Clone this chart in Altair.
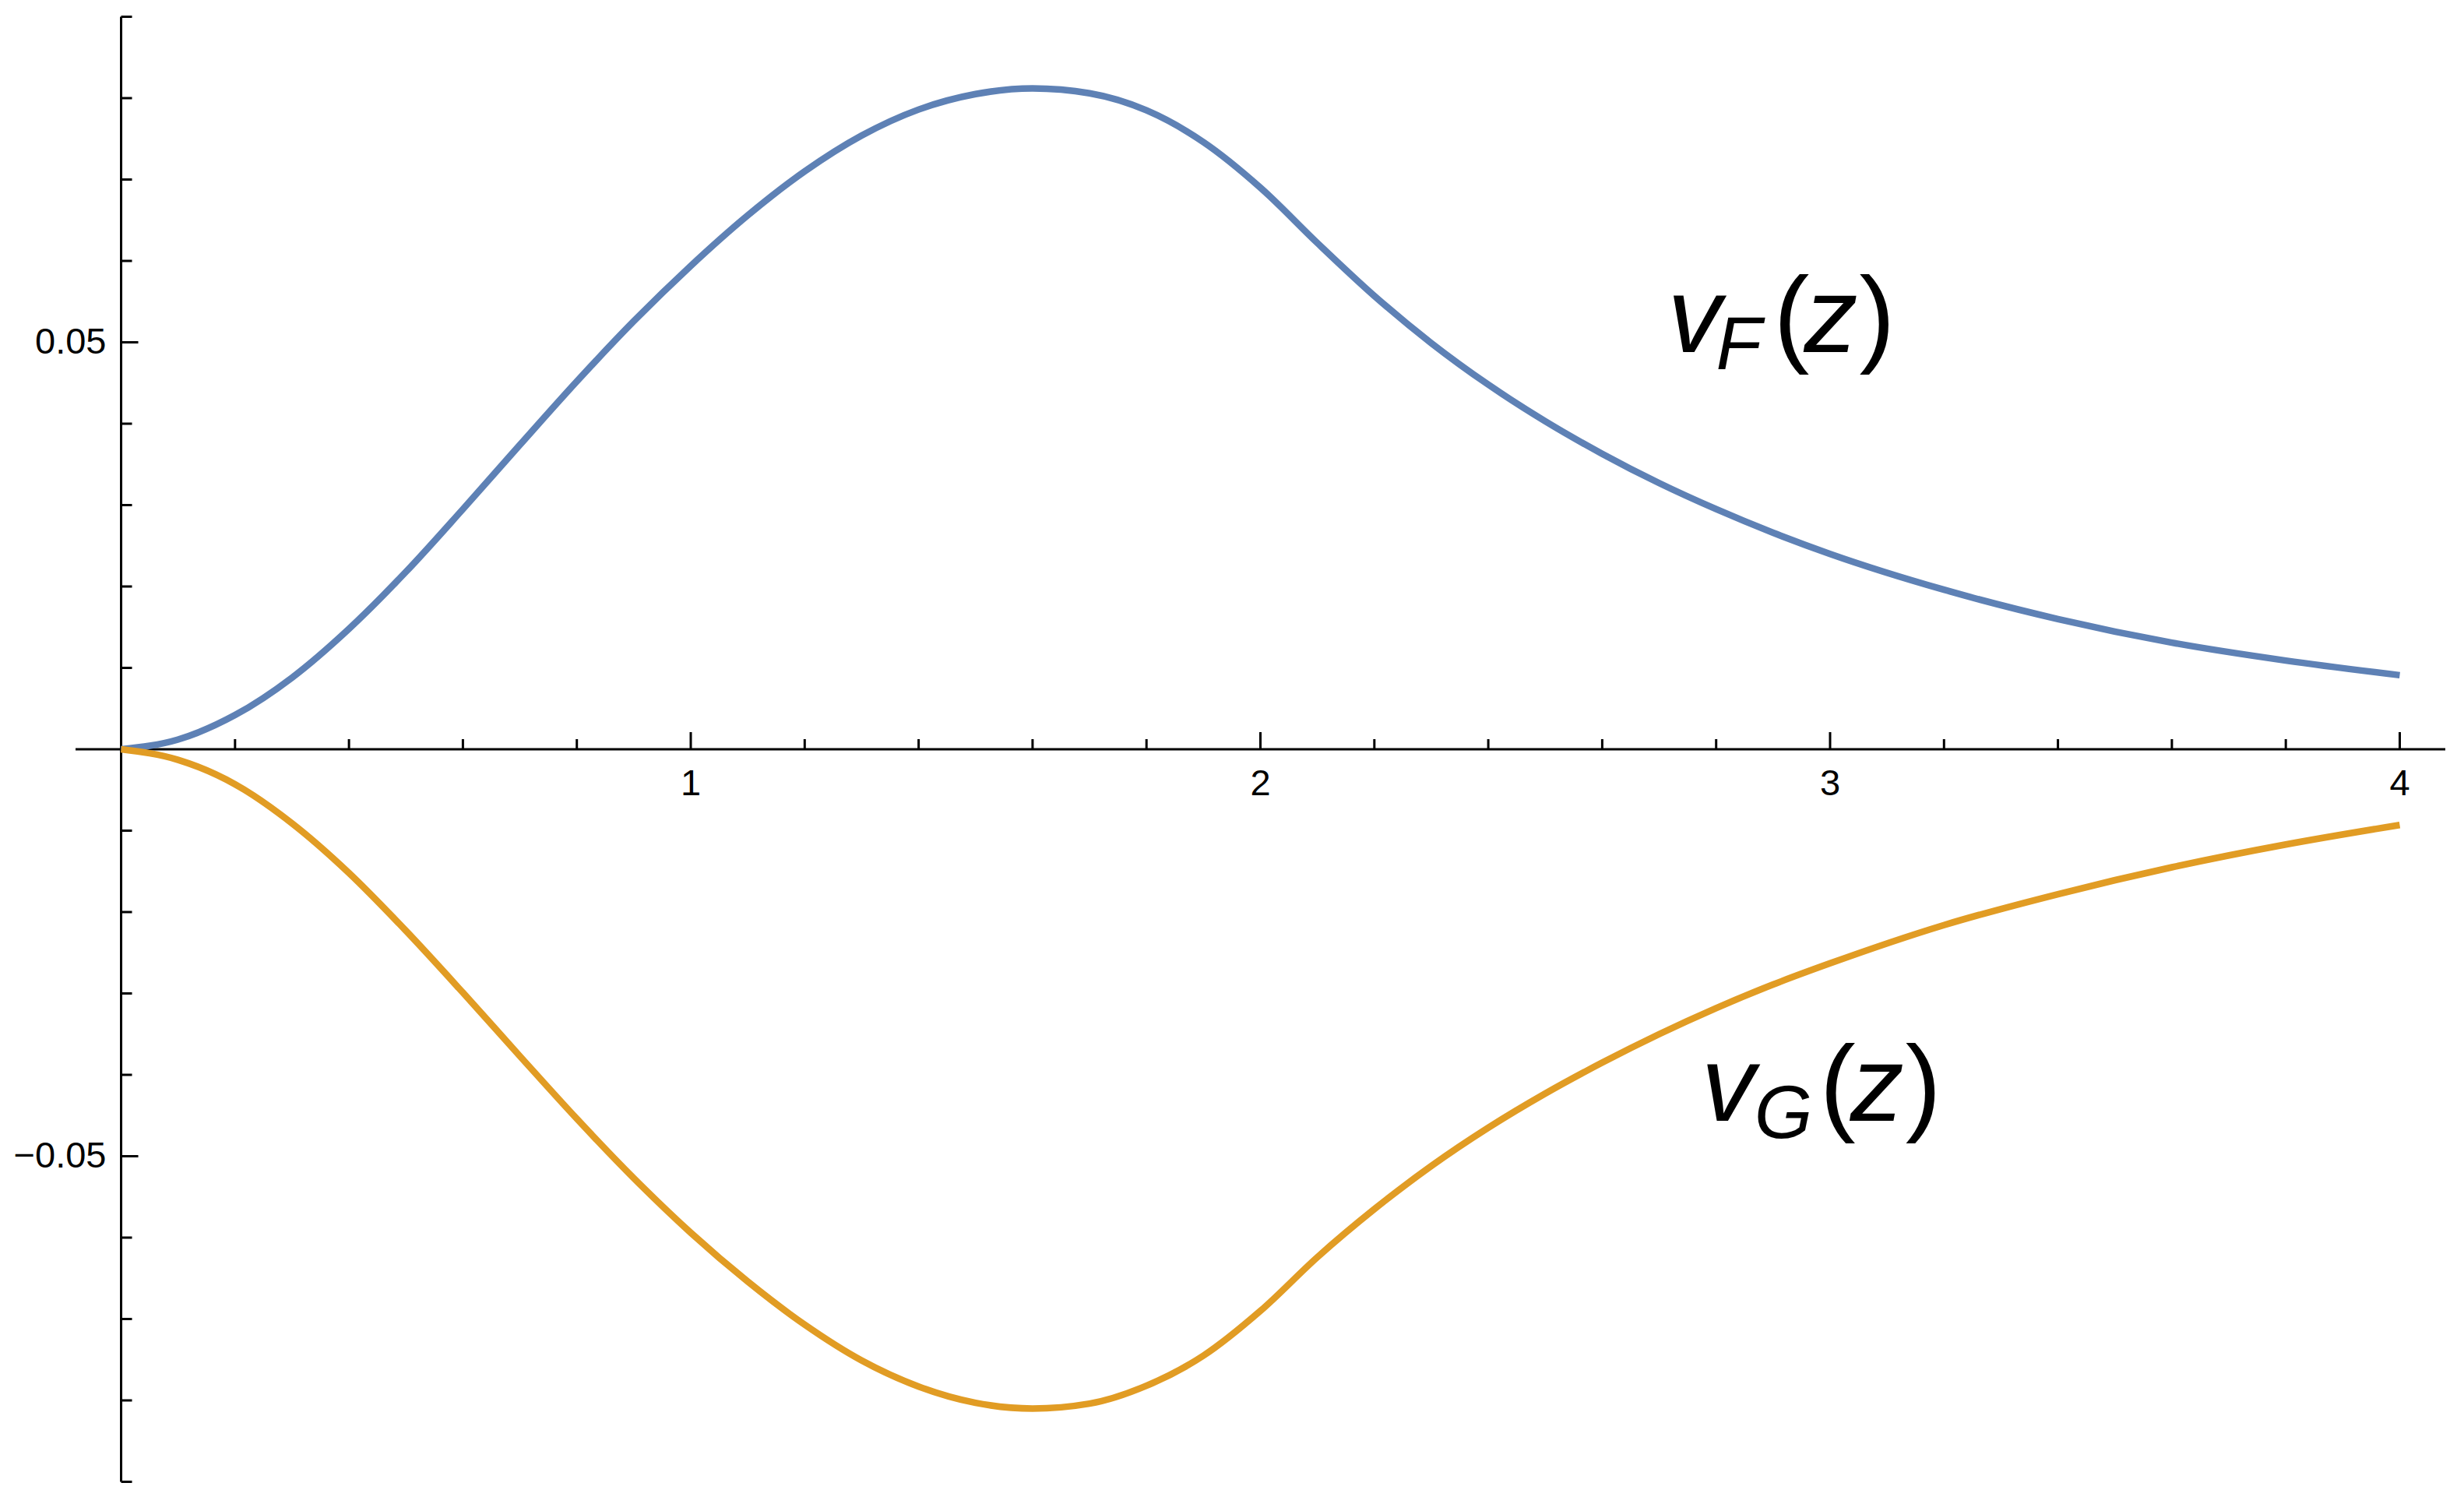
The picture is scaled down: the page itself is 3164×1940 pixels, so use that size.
import altair as alt
import pandas as pd

# ---------------- data ----------------
z_vals = [0.0, 0.1, 0.2, 0.3, 0.4, 0.5, 0.6, 0.7, 0.8, 0.9, 1.0, 1.1, 1.2, 1.3,
          1.4, 1.5, 1.6, 1.7, 1.8, 1.9, 2.0, 2.1, 2.2, 2.3, 2.4, 2.5, 2.6, 2.7,
          2.8, 2.9, 3.0, 3.2, 3.4, 3.6, 3.8, 4.0]
vF_vals = [0.0, 0.0012, 0.0042, 0.0088, 0.0148, 0.0218, 0.0295, 0.0374, 0.0452,
           0.0526, 0.0594, 0.0656, 0.0710, 0.0754, 0.0786, 0.0805, 0.0812, 0.0806,
           0.0785, 0.0746, 0.0690, 0.0622, 0.0557, 0.0499, 0.0448, 0.0403, 0.0363,
           0.0327, 0.0295, 0.0266, 0.0240, 0.0196, 0.0160, 0.0131, 0.0109, 0.0091]
vG_vals = [0.0, -0.0013, -0.0043, -0.0091, -0.0152, -0.0223, -0.0299, -0.0377,
           -0.0454, -0.0527, -0.0594, -0.0654, -0.0707, -0.0751, -0.0783, -0.0803,
           -0.0810, -0.0804, -0.0782, -0.0745, -0.0690, -0.0624, -0.0565, -0.0512,
           -0.0465, -0.0423, -0.0385, -0.0350, -0.0318, -0.0289, -0.0263, -0.0216,
           -0.0178, -0.0145, -0.0117, -0.0093]
series_names = ["vF", "vG"]

x_major_ticks = [1, 2, 3, 4]
x_tick_labels = ["1", "2", "3", "4"]
x_minor_ticks = [0.2, 0.4, 0.6, 0.8, 1.2, 1.4, 1.6, 1.8, 2.2, 2.4, 2.6, 2.8,
                 3.2, 3.4, 3.6, 3.8]
y_major_ticks = [-0.05, 0.05]
y_tick_labels = ["\u22120.05", "0.05"]
y_minor_ticks = [-0.09, -0.08, -0.07, -0.06, -0.04, -0.03, -0.02, -0.01,
                 0.01, 0.02, 0.03, 0.04, 0.06, 0.07, 0.08, 0.09]

x_domain = [-0.08, 4.08]
y_domain = [-0.09, 0.09]

label_F_parts = ["v", "F", "(", "z", ")"]
label_G_parts = ["v", "G", "(", "z", ")"]
label_F_anchor = [2.715, 0.0488]
label_G_anchor = [2.774, -0.0456]

# ---------------- style ----------------
BLUE = "#5E81B5"
ORANGE = "#E19C24"
FONT = "Liberation Sans"
LINE_W = 8.5
AX_W = 3

xs = alt.Scale(domain=x_domain, nice=False, zero=False)
ys = alt.Scale(domain=y_domain, nice=False, zero=False)

curves = pd.DataFrame({
    "z": z_vals * 2,
    "v": vF_vals + vG_vals,
    "series": [series_names[0]] * len(z_vals) + [series_names[1]] * len(z_vals),
})

lines = alt.Chart(curves).mark_line(strokeWidth=LINE_W, interpolate="monotone").encode(
    x=alt.X("z:Q", scale=xs, axis=None),
    y=alt.Y("v:Q", scale=ys, axis=None),
    color=alt.Color("series:N", scale=alt.Scale(domain=series_names, range=[BLUE, ORANGE]), legend=None),
    detail="series:N",
)

axis_df = pd.DataFrame({
    "x": [x_domain[0], 0.0], "x2": [x_domain[1], 0.0],
    "y": [0.0, y_domain[0]], "y2": [0.0, y_domain[1]],
})
axes = alt.Chart(axis_df).mark_rule(color="black", strokeWidth=AX_W).encode(
    x=alt.X("x:Q", scale=xs, axis=None), x2="x2:Q",
    y=alt.Y("y:Q", scale=ys, axis=None), y2="y2:Q",
)

def xticks(vals, size):
    df = pd.DataFrame({"z": vals, "y0": [0.0] * len(vals)})
    return alt.Chart(df).mark_tick(orient="vertical", size=size, thickness=AX_W,
                                   yOffset=-size / 2, color="black", opacity=1).encode(
        x=alt.X("z:Q", scale=xs, axis=None), y=alt.Y("y0:Q", scale=ys, axis=None))

def yticks(vals, size):
    df = pd.DataFrame({"v": vals, "x0": [0.0] * len(vals)})
    return alt.Chart(df).mark_tick(orient="horizontal", size=size, thickness=AX_W,
                                   xOffset=size / 2, color="black", opacity=1).encode(
        x=alt.X("x0:Q", scale=xs, axis=None), y=alt.Y("v:Q", scale=ys, axis=None))

xlab_df = pd.DataFrame({"z": x_major_ticks, "y0": [0.0] * 4, "t": x_tick_labels})
xlabels = alt.Chart(xlab_df).mark_text(font=FONT, fontSize=47, dy=45, baseline="middle",
                                       align="center", color="black").encode(
    x=alt.X("z:Q", scale=xs, axis=None), y=alt.Y("y0:Q", scale=ys, axis=None), text="t:N")

ylab_df = pd.DataFrame({"v": y_major_ticks, "x0": [0.0] * 2, "t": y_tick_labels})
ylabels = alt.Chart(ylab_df).mark_text(font=FONT, fontSize=47, dx=-19, baseline="middle",
                                       align="right", color="black").encode(
    x=alt.X("x0:Q", scale=xs, axis=None), y=alt.Y("v:Q", scale=ys, axis=None), text="t:N")

def math_label(parts, anchor, offsets):
    layers = []
    styles = [("italic", 138, 0), ("italic", 96, 22), ("normal", 138, 0),
              ("italic", 138, 0), ("normal", 138, 0)]
    for part, (fs, size, dy), dx in zip(parts, styles, offsets):
        df = pd.DataFrame({"x": [anchor[0]], "y": [anchor[1]], "t": [part]})
        layers.append(alt.Chart(df).mark_text(font=FONT, fontStyle=fs, fontSize=size,
                                              dx=dx, dy=dy, align="left",
                                              baseline="alphabetic", color="black").encode(
            x=alt.X("x:Q", scale=xs, axis=None), y=alt.Y("y:Q", scale=ys, axis=None),
            text="t:N"))
    return layers

labF = math_label(label_F_parts, label_F_anchor, [0, 62, 136, 175, 246])
labG = math_label(label_G_parts, label_G_anchor, [0, 68, 152, 191, 262])

chart = alt.layer(
    axes, xticks(x_minor_ticks, 13), xticks(x_major_ticks, 22),
    yticks(y_minor_ticks, 14), yticks(y_major_ticks, 22),
    xlabels, ylabels, lines, *labF, *labG,
).properties(
    width=3043, height=1881,
    autosize=alt.AutoSizeParams(type="none"),
    padding={"left": 89, "top": 13.5, "right": 16, "bottom": 30},
    background="white",
).configure_view(strokeWidth=0)

chart.save("out.html", embed_options={"renderer": "svg", "actions": False})
